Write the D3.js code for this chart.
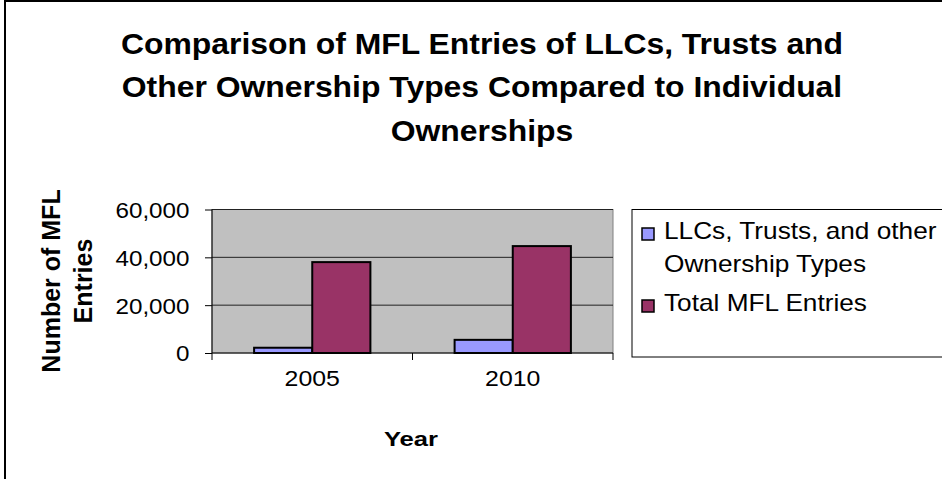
<!DOCTYPE html>
<html lang="en">
<head>
    <meta charset="UTF-8">
    <title>MFL Entries Comparison</title>
    <script src="https://d3js.org/d3.v7.min.js"></script>
    <style>
        body { margin: 0; background: #fff; }
        svg { display: block; font-family: Arial, "Liberation Sans", sans-serif; }
    </style>
</head>
<body>
    <svg width="942" height="479"></svg>
    <script>
        // chart data
        const years = ["2005", "2010"];
        const seriesNames = ["LLCs, Trusts, and other Ownership Types", "Total MFL Entries"];
        const llcValues = [2200, 5500];
        const totalValues = [38000, 44700];
        const yTicks = [0, 20000, 40000, 60000];
        const colors = ["#9999FF", "#993366"];

        const svg = d3.select("svg");

        // text with a slight horizontal stretch, like the original export
        function stretchedText(parent, x, y, lines, size, weight, anchor, sx, lineGap) {
            const t = parent.append("g")
                .attr("transform", "translate(" + x + "," + y + ") scale(" + sx + ",1)")
                .append("text")
                .attr("font-size", size)
                .attr("font-weight", weight)
                .attr("text-anchor", anchor);
            t.selectAll("tspan").data(lines).enter().append("tspan")
                .attr("x", 0)
                .attr("y", (d, i) => i * lineGap)
                .text(d => d);
            return t;
        }

        // outer chart border
        svg.append("rect")
            .attr("x", 5).attr("y", 1)
            .attr("width", 950).attr("height", 500)
            .attr("fill", "none").attr("stroke", "#000").attr("stroke-width", 2);

        // title
        stretchedText(svg, 482, 54, ["Comparison of MFL Entries of LLCs, Trusts and",
                                     "Other Ownership Types Compared to Individual",
                                     "Ownerships"], 29, "bold", "middle", 1.1, 43.5);

        const margin = { left: 212, top: 209.5 },
              width = 401, height = 143.5;

        const g = svg.append("g").attr("transform", "translate(" + margin.left + "," + margin.top + ")");

        const x = d3.scaleBand().domain(years).range([0, width]);
        const y = d3.scaleLinear().domain([0, 60000]).range([height, 0]);

        // plot area
        g.append("rect")
            .attr("width", width).attr("height", height)
            .attr("fill", "#C0C0C0").attr("stroke", "#808080").attr("stroke-width", 1);

        g.selectAll(".grid").data(yTicks.filter(d => d > 0)).enter().append("line")
            .attr("x1", 0).attr("x2", width)
            .attr("y1", d => y(d)).attr("y2", d => y(d))
            .attr("stroke", "#222").attr("stroke-width", 1);

        // bars
        const groupW = x.bandwidth() * 0.58;
        const barW = groupW / 2;
        const data = years.map((yr, i) => ({ year: yr, values: [llcValues[i], totalValues[i]] }));

        data.forEach(function(d) {
            const x0 = x(d.year) + (x.bandwidth() - groupW) / 2;
            g.selectAll(null).data(d.values).enter().append("rect")
                .attr("x", (v, j) => x0 + j * barW)
                .attr("y", v => y(v))
                .attr("width", barW)
                .attr("height", v => height - y(v))
                .attr("fill", (v, j) => colors[j])
                .attr("stroke", "#000").attr("stroke-width", 2);
        });

        // axes
        const yAxis = g.append("g")
            .call(d3.axisLeft(y).tickValues(yTicks).tickFormat(d3.format(",")).tickSize(7).tickPadding(14));
        yAxis.selectAll("text")
            .attr("font-size", 22).attr("fill", "#000")
            .attr("font-family", "Arial, 'Liberation Sans', sans-serif")
            .attr("x", -20.5).attr("dy", "0.36em")
            .attr("transform", "scale(1.1,1)");
        yAxis.selectAll("line").attr("stroke", "#000");
        yAxis.select(".domain").attr("stroke", "#000").attr("d", "M0,0V" + height);

        const xAxis = g.append("g")
            .attr("transform", "translate(0," + height + ")")
            .call(d3.axisBottom(x).tickSize(0).tickPadding(29));
        xAxis.selectAll("text")
            .attr("font-size", 22).attr("fill", "#000")
            .attr("font-family", "Arial, 'Liberation Sans', sans-serif")
            .attr("dy", "0.2em")
            .attr("transform", "scale(1.13,1)");
        xAxis.select(".domain").attr("stroke", "#000").attr("d", "M0,0H" + width);
        xAxis.selectAll(".sep").data([0, x.bandwidth(), width]).enter().append("line")
            .attr("x1", d => d).attr("x2", d => d)
            .attr("y1", 0).attr("y2", 7)
            .attr("stroke", "#000");

        // axis titles
        stretchedText(svg, 411, 446, ["Year"], 21, "bold", "middle", 1.22, 0);

        svg.append("text")
            .attr("text-anchor", "middle").attr("font-size", 25).attr("font-weight", "bold")
            .attr("transform", "translate(0,281) rotate(-90)")
            .selectAll("tspan").data(["Number of MFL", "Entries"]).enter().append("tspan")
            .attr("x", 0).attr("y", (d, i) => 60 + i * 32)
            .text(d => d);

        // legend
        const legend = svg.append("g");
        legend.append("rect")
            .attr("x", 632).attr("y", 209.5).attr("width", 330).attr("height", 147.5)
            .attr("fill", "#fff").attr("stroke", "#000").attr("stroke-width", 1);

        const legendItems = [
            { lines: ["LLCs, Trusts, and other", "Ownership Types"], y: 228, color: colors[0] },
            { lines: seriesNames.slice(1), y: 300, color: colors[1] }
        ];
        legendItems.forEach(function(item) {
            legend.append("rect")
                .attr("x", 642).attr("y", item.y).attr("width", 12).attr("height", 12)
                .attr("fill", item.color).attr("stroke", "#000").attr("stroke-width", 1.5);
            stretchedText(legend, 664, item.y + 11, item.lines, 23, "normal", "start", 1.14, 33.5);
        });
    </script>
</body>
</html>
